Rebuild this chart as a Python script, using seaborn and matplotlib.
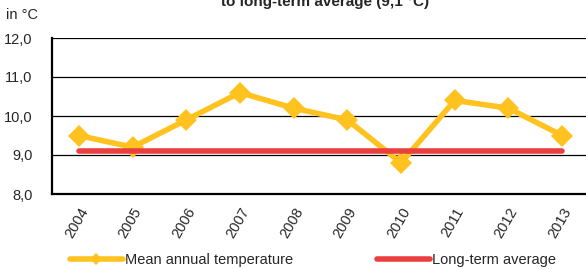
import matplotlib
matplotlib.use("Agg")
import matplotlib.pyplot as plt
import numpy as np
import pandas as pd
import seaborn as sns

# data
years = ['2004', '2005', '2006', '2007', '2008', '2009', '2010', '2011', '2012', '2013']
mean_temp = [9.5, 9.2, 9.9, 10.6, 10.2, 9.9, 8.8, 10.4, 10.2, 9.5]
long_term = [9.1] * len(years)
yticks = [8.0, 9.0, 10.0, 11.0, 12.0]

YELLOW = '#FFC21E'
RED = '#E9403F'
FS = 10.5

sns.set_style("white")
plt.rcParams['font.family'] = ['Liberation Sans', 'DejaVu Sans']

df = pd.DataFrame({'year': years, 'mean': mean_temp, 'avg': long_term})

fig = plt.figure(figsize=(5.86, 2.69), dpi=100)
# axes: left spine ~x=52, right edge a bit past the figure, y 38..194 px
ax = fig.add_axes([52 / 586, 1 - 194 / 269, 537 / 586, 156 / 269])

sns.lineplot(data=df, x='year', y='mean', ax=ax, color=YELLOW, lw=4,
             marker='D', markersize=11, markeredgewidth=0,
             label='Mean annual temperature', zorder=3)
sns.lineplot(data=df, x='year', y='avg', ax=ax, color=RED, lw=4,
             solid_capstyle='round', label='Long-term average', zorder=4)

ax.set_xlim(-0.5, len(years) - 0.5)
ax.set_ylim(8, 12)
ax.set_yticks(yticks)
ax.set_yticklabels([f'{v:.1f}'.replace('.', ',') for v in yticks], fontsize=FS)
ax.set_xticks(range(len(years)))
ax.set_xticklabels(years, rotation=60, ha='right', rotation_mode='anchor', fontsize=FS)
ax.set_xticks(np.arange(-0.5, len(years)), minor=True)
ax.tick_params(axis='x', which='major', length=0, pad=8)
ax.tick_params(axis='x', which='minor', length=4, width=1.2, color='black', direction='out')
ax.tick_params(axis='y', length=5, width=1.2, color='black', direction='out', pad=9)
ax.set_xlabel('')
ax.set_ylabel('')
ax.grid(axis='y', color='black', lw=0.9)
ax.grid(axis='x', visible=False)
for s in ['top', 'right']:
    ax.spines[s].set_visible(False)
for s in ['left', 'bottom']:
    ax.spines[s].set_color('black')
    ax.spines[s].set_linewidth(1.6)

ax.get_legend().remove()
handles, labels = ax.get_legend_handles_labels()
fig.legend(handles, labels, loc='center left', bbox_to_anchor=(70 / 586, 1 - 260 / 269),
           ncol=2, frameon=False, fontsize=FS, handlelength=3.6,
           handletextpad=0.15, columnspacing=5.8, markerscale=0.6,
           borderpad=0, borderaxespad=0)

fig.text(6 / 586, 1 - 15 / 269, 'in °C', fontsize=FS, ha='left', va='center')
fig.text(325 / 586, 1 - 6 / 269, 'to long-term average (9,1 °C)', fontsize=11,
         fontweight='bold', ha='center', va='baseline')

fig.savefig("out.png", dpi=100)
